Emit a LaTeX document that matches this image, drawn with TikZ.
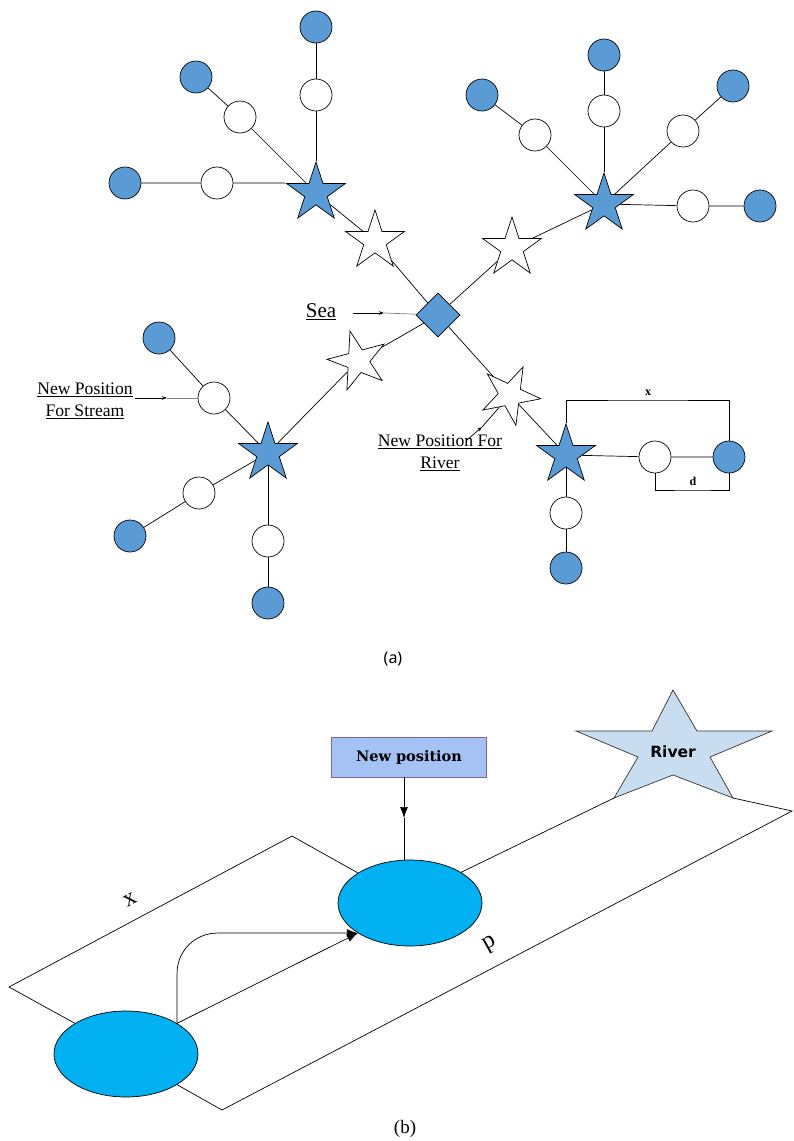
\documentclass[tikz,border=0pt]{standalone}
\usepackage{fontspec}
\setmainfont{Liberation Serif}
\newfontfamily\capfont{Noto Sans}
\newfontfamily\boxfont{DejaVu Serif}
\newfontfamily\starfont{DejaVu Sans}
\usetikzlibrary{shapes.geometric,arrows.meta,positioning}

\definecolor{nodeblue}{HTML}{5B9BD5}
\definecolor{cellblue}{HTML}{00B0F0}
\definecolor{boxblue}{HTML}{A4C2F4}
\definecolor{boxedge}{HTML}{8064A2}
\definecolor{riverblue}{HTML}{C9DDF1}

\newcommand\lblfont{\fontsize{17.6}{22}\selectfont}

\tikzset{
  bstar/.style={star, star points=5, star point ratio=2.618, minimum size=62pt,
    inner sep=0pt, fill=nodeblue, draw},
  wstar/.style={bstar, fill=white},
  bcirc/.style={circle, minimum size=32pt, inner sep=0pt, fill=nodeblue, draw},
  wcirc/.style={bcirc, fill=white},
  seanode/.style={diamond, minimum size=44pt, inner sep=0pt, fill=nodeblue, draw},
  lbl/.style={inner sep=0pt, font=\lblfont},
  cell/.style={ellipse, minimum width=144pt, minimum height=86pt, fill=cellblue, draw},
  npbox/.style={rectangle, minimum width=155pt, minimum height=40pt, fill=boxblue,
    draw=boxedge, font=\boxfont\bfseries\fontsize{14.5}{16}\selectfont},
  bigarr/.style={-{Latex[length=11pt,width=8pt]}}
}

\begin{document}
\begin{tikzpicture}[x=1pt,y=-1pt,line width=0.7pt,>={Stealth[length=5pt,width=3.5pt]}]
\useasboundingbox (0,0) rectangle (793,1141);

% ---- (a) ----
\node[seanode] (sea) at (438,315) {};
\node[bstar] (bs1) at (316,193) {};
\node[bstar] (bs2) at (604,204) {};
\node[bstar] (bs3) at (268,453) {};
\node[bstar] (bs4) at (566,455) {};
\node[wstar] (ws1) at (375,241) {};
\node[wstar] (ws2) at (512,248) {};
\node[wstar, rotate=15] (ws3) at (358,361) {};
\node[wstar, rotate=-25] (ws4) at (510,395) {};

\draw (sea) -- (ws1) -- (bs1);
\draw (sea) -- (ws2) -- (bs2);
\draw (sea) -- (ws3) -- (bs3);
\draw (sea) -- (ws4) -- (bs4);

\foreach \st/\nm/\wx/\wy/\bx/\by in {
    bs1.outer point 2/1a/217/183/125/183, bs1/1b/240/117/196/77, bs1/1c/316/95/316/27,
    bs2/2a/535/135/482/95, bs2/2b/604/111/604/55, bs2/2c/683/131/733/86,
    bs2/2d/693/206/760/206,
    bs3/3a/214/398/159/338, bs3/3b/199/493/130/536, bs3/3c/268/541/268/603,
    bs4/4a/655/457/729/457, bs4/4b/566/513/566/568} {
  \node[wcirc] (wc\nm) at (\wx,\wy) {};
  \node[bcirc] (bc\nm) at (\bx,\by) {};
  \draw (\st) -- (wc\nm) -- (bc\nm);
}

% labels with arrows
\node[lbl, font=\fontsize{21}{24}\selectfont] (sealbl) at (321,312) {\underline{Sea}};
\coordinate (seatip) at (384,313);
\draw[->, line width=1pt] ([xshift=16pt,yshift=-1pt]sealbl.east) -- (seatip);
\draw[gray] (seatip) -- (sea);

\node[lbl, align=center] (stream) at (85,401) {\underline{New Position}\\\underline{For Stream}};
\coordinate (streamtip) at (167,398);
\draw[->, line width=1pt] ([xshift=2pt,yshift=3pt]stream.east) -- (streamtip);
\draw[gray] (streamtip) -- (wc3a);

\node[lbl, align=center] (rivlbl) at (440,453) {\underline{New Position For}\\\underline{River}};
\coordinate (rivtail) at (467,440);
\coordinate (rivtip) at (482,427);
\draw[->] (rivtail) -- (rivtip);
\draw (rivtip) -- (ws4);

% distances
\coordinate (xmid) at (648,400);
\draw (bs4.north) |- (xmid) -| (bc4a.north);
\node[font=\bfseries\fontsize{12}{14}\selectfont, above=1pt] (xlbl) at (xmid) {x};
\coordinate (dmid) at (693,490);
\draw (wc4a.south) |- (dmid) -| (bc4a.south);
\node[font=\bfseries\fontsize{12}{14}\selectfont, above=1pt] (dlbl) at (dmid) {d};

\node[font=\capfont\fontsize{16}{18}\selectfont] (capa) at (393,659) {(a)};

% ---- (b) ----
\node[npbox] (newpos) at (409,757) {New position};
\node[cell] (cellb) at (410,903) {};
\node[cell] (cella) at (126,1054) {};

\filldraw[fill=riverblue, draw=black!80] (673,690) -- (697,731) -- (772,731)
  -- (710,757) -- (733,798) -- (673,775) -- (614,798) -- (638,757)
  -- (576,731) -- (652,731) -- cycle;
\node[font=\starfont\bfseries\fontsize{15.5}{17}\selectfont] (river) at (673,752) {River};
\coordinate (rvbl) at (614,798);
\coordinate (rvbr) at (733,798);

\coordinate (nptip) at (404,818);
\draw[bigarr] (newpos.south -| nptip) -- (nptip);
\draw (nptip) -- (cellb.north -| nptip);

\coordinate (pleft) at (9,987);
\coordinate (ptop) at (292,836);
\coordinate (pbot) at (222,1110);
\coordinate (pright) at (792,811);
\draw (cella.149) -- (pleft) -- (ptop) -- (cellb.150);
\draw (cellb.31) -- (rvbl);
\draw (rvbr) -- (pright) -- (pbot) -- (cella.-31);

\draw[bigarr] (cella.31) -- (cellb.210);
\draw[bigarr, rounded corners=40pt] (cella.31) |- (cellb.210);

\node[rotate=29, font=\fontsize{24}{28}\selectfont] (xlab) at (130,900) {x};
\node[rotate=209, font=\fontsize{24}{28}\selectfont] (dlab) at (490,945) {d};

\node[font=\fontsize{19}{22}\selectfont] (capb) at (405,1129) {(b)};
\end{tikzpicture}
\end{document}
